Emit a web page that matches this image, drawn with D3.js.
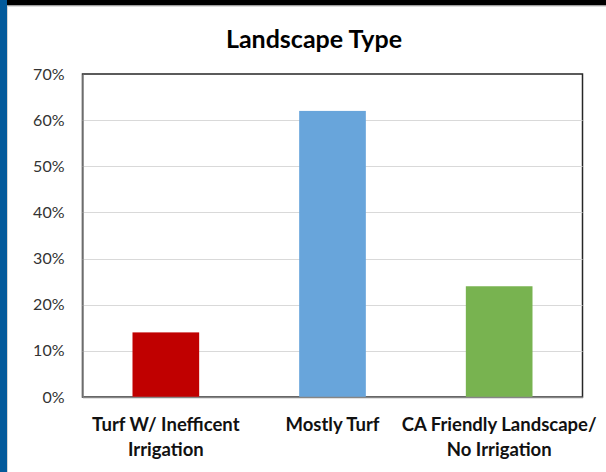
<!DOCTYPE html>
<html>
<head>
<meta charset="utf-8">
<script src="https://cdn.jsdelivr.net/npm/d3@7"></script>
<style>
  html, body { margin: 0; padding: 0; background: #fff; }
  svg { display: block; }
</style>
</head>
<body>
<svg id="chart" width="606" height="472"></svg>
<script>
// Share of homes by landscape type
const categories = [
  ["Turf W/ Inefficent", "Irrigation"],
  ["Mostly Turf"],
  ["CA Friendly Landscape/", "No Irrigation"]
];
const values = [0.14, 0.62, 0.24];
const barColors = ["#c00000", "#68a5db", "#78b350"];
const yTicks = [0, 0.1, 0.2, 0.3, 0.4, 0.5, 0.6, 0.7];
const titleText = "Landscape Type";

const W = 606, H = 472;
const plot = { left: 82.5, right: 582.5, top: 74, bottom: 397 };
const fontFamily = "Lato, 'Open Sans', sans-serif";

const svg = d3.select("#chart");

// slide frame: blue strip on the left, black band along the top
svg.append("rect").attr("x", 0).attr("y", 0).attr("width", W).attr("height", H).attr("fill", "#fff");
svg.append("rect").attr("x", 0).attr("y", 0).attr("width", W).attr("height", 5.5).attr("fill", "#000");
svg.append("rect").attr("x", 7).attr("y", 5.5).attr("width", W - 7).attr("height", 1).attr("fill", "#bdbdbd");
svg.append("rect").attr("x", 0).attr("y", 0).attr("width", 7).attr("height", H).attr("fill", "#035a9b");
svg.append("rect").attr("x", 7).attr("y", 6).attr("width", 1).attr("height", H - 6).attr("fill", "#d6d6d6");

const x = d3.scaleBand()
  .domain(d3.range(categories.length))
  .range([plot.left, plot.right])
  .paddingInner(0.6)
  .paddingOuter(0.3);

const y = d3.scaleLinear()
  .domain([0, 0.7])
  .range([plot.bottom, plot.top]);

// plot-area border (top and right)
svg.append("rect")
  .attr("x", plot.left).attr("y", plot.top)
  .attr("width", plot.right - plot.left).attr("height", plot.bottom - plot.top)
  .attr("fill", "none").attr("stroke", "#262626").attr("stroke-width", 1.5);

// horizontal gridlines
svg.append("g")
  .selectAll("line")
  .data(yTicks.filter(t => t > 0 && t < 0.7))
  .join("line")
  .attr("x1", plot.left).attr("x2", plot.right)
  .attr("y1", d => Math.round(y(d)) + 0.5).attr("y2", d => Math.round(y(d)) + 0.5)
  .attr("stroke", "#d9d9d9").attr("stroke-width", 1);

// bars
svg.append("g")
  .selectAll("rect")
  .data(values)
  .join("rect")
  .attr("x", (d, i) => x(i))
  .attr("y", d => y(d))
  .attr("width", x.bandwidth())
  .attr("height", d => y(0) - y(d))
  .attr("fill", (d, i) => barColors[i]);

// y axis
const yAxis = d3.axisLeft(y)
  .tickValues(yTicks)
  .tickFormat(d3.format(".0%"))
  .tickSize(0)
  .tickPadding(18);
const gy = svg.append("g").attr("transform", `translate(${plot.left},0)`).call(yAxis);
gy.select(".domain").attr("stroke", "#868686").attr("stroke-width", 1.5);
gy.selectAll("text")
  .attr("font-family", fontFamily)
  .attr("font-size", 16)
  .attr("fill", "#333");

// x axis
const xAxis = d3.axisBottom(x).tickSize(0).tickFormat("");
const gx = svg.append("g").attr("transform", `translate(0,${plot.bottom})`).call(xAxis);
gx.select(".domain").attr("stroke", "#868686").attr("stroke-width", 1.5);

// category labels, possibly on two lines
const labels = svg.append("g")
  .selectAll("text")
  .data(categories)
  .join("text")
  .attr("text-anchor", "middle")
  .attr("font-family", fontFamily)
  .attr("font-weight", "bold")
  .attr("font-size", 18.5)
  .attr("fill", "#111")
  .attr("transform", (d, i) => `translate(${x(i) + x.bandwidth() / 2},431)`);
labels.selectAll("tspan")
  .data(d => d)
  .join("tspan")
  .attr("x", 0)
  .attr("dy", (d, i) => i === 0 ? 0 : 25)
  .text(d => d);

// title
svg.append("text")
  .attr("x", 314).attr("y", 48)
  .attr("text-anchor", "middle")
  .attr("font-family", fontFamily)
  .attr("font-weight", "bold")
  .attr("font-size", 25)
  .attr("fill", "#000")
  .text(titleText);
</script>
</body>
</html>
